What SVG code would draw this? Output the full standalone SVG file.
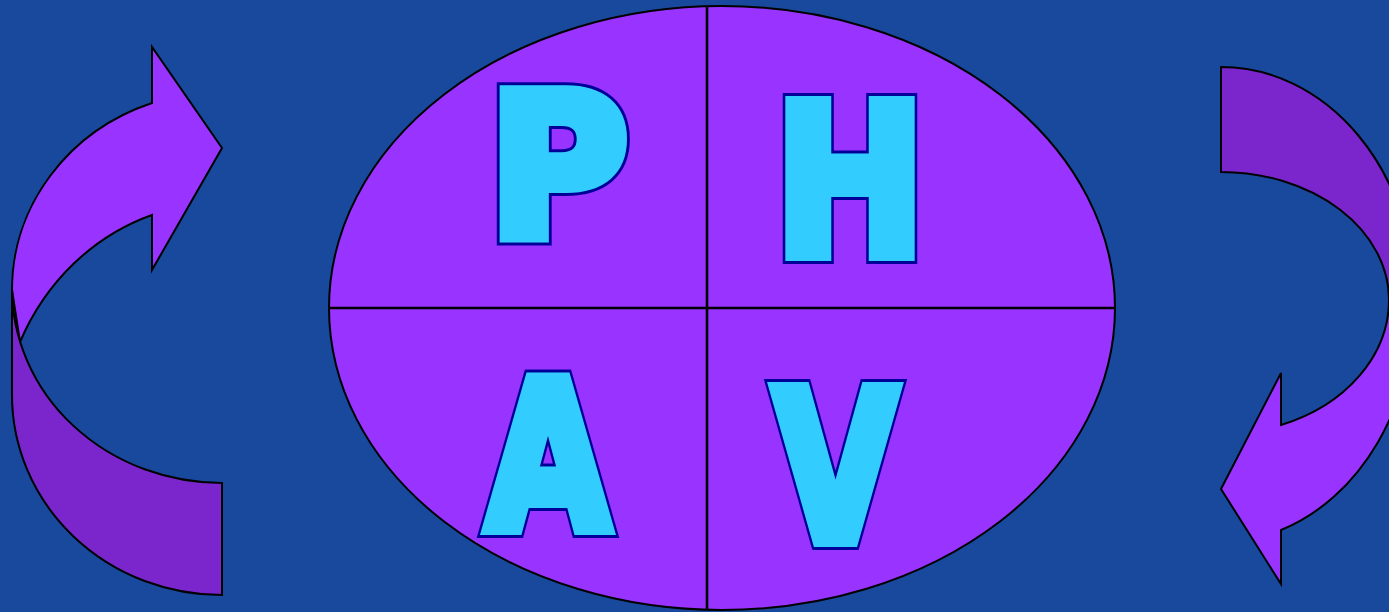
<svg xmlns="http://www.w3.org/2000/svg" width="1389" height="612" viewBox="0 0 1389 612">
<style>
.shape{stroke:#000;stroke-width:2;stroke-linejoin:miter}
.divider{stroke:#000;stroke-width:2.6}
.light{fill:#9933FF}
.dark{fill:#7A26CC}
.glyph{font-family:"DejaVu Sans",sans-serif;font-weight:bold;text-anchor:middle}
.outline{fill:#000099;stroke:#000099;stroke-width:20;stroke-linejoin:miter;stroke-miterlimit:3}
.face{fill:#33CCFF;stroke:#33CCFF;stroke-width:14;stroke-linejoin:miter;stroke-miterlimit:3}
</style>
<defs>
  <text id="tP" class="glyph" x="558.5" y="236" font-size="197" textLength="139" lengthAdjust="spacingAndGlyphs">P</text>
  <text id="tH" class="glyph" x="850" y="254" font-size="206" textLength="150" lengthAdjust="spacingAndGlyphs">H</text>
  <text id="tA" class="glyph" x="548" y="528" font-size="203" textLength="122" lengthAdjust="spacingAndGlyphs">A</text>
  <text id="tV" class="glyph" x="835.5" y="540" font-size="207" textLength="123" lengthAdjust="spacingAndGlyphs">V</text>
</defs>
<rect width="1389" height="612" fill="#18499D"/>
<g id="connectors">
  <g id="arrow-left">
    <path class="shape light" d="M 12,290 A 210 198 0 0 1 152,103 L 152,47 L 222,148 L 152,270 L 152,215 A 222 237 0 0 0 20,342 Z"/>
    <path class="shape dark" d="M 12,288 A 210 195 0 0 0 222,483 L 222,595 A 210 200 0 0 1 12,395 Z"/>
  </g>
  <g id="arrow-right">
    <path class="shape dark" d="M 1221,67 A 194 233 0 0 1 1415,300 L 1389,300 A 168 128 0 0 0 1221,172 Z"/>
    <path class="shape light" d="M 1415,300 A 194 242 0 0 1 1281,530 L 1281,584 L 1221,489 L 1281,373 L 1281,425 A 168 134 0 0 0 1389,300 Z"/>
  </g>
</g>
<g id="circle">
  <ellipse class="shape light" cx="722" cy="308" rx="393" ry="302"/>
  <line class="divider" x1="329" y1="308" x2="1115" y2="308"/>
  <line class="divider" x1="707" y1="6" x2="707" y2="610"/>
</g>
<g id="node-P"><use href="#tP" class="outline"/><use href="#tP" class="face"/></g>
<g id="node-H"><use href="#tH" class="outline"/><use href="#tH" class="face"/></g>
<g id="node-A"><use href="#tA" class="outline"/><use href="#tA" class="face"/></g>
<g id="node-V"><use href="#tV" class="outline"/><use href="#tV" class="face"/></g>
</svg>
